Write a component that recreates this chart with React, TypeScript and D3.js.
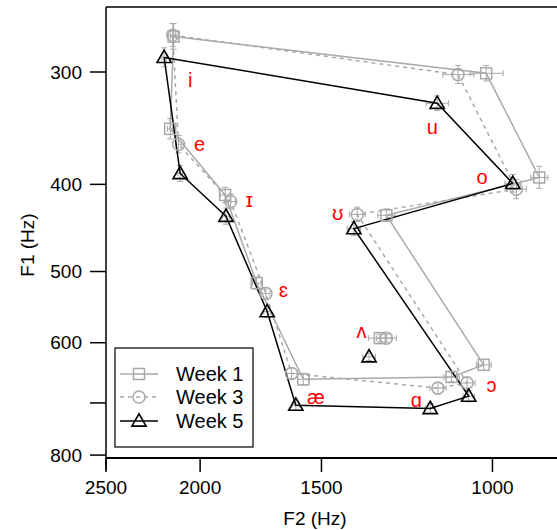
import React from "react";
import * as d3 from "d3";

// vowel order round the polygon
const vowels = ["i", "e", "ɪ", "ɛ", "æ", "ɑ", "ɔ", "ʊ", "o", "u"];

const week1F2 = [2130, 2147, 1885, 1749, 1566, 1102, 1021, 1286, 895, 1015];
const week1F1 = [274, 347, 411, 515, 659, 655, 635, 433, 393, 301];
const week1F2Err = [14, 14, 22, 18, 22, 20, 18, 26, 18, 40];
const week1F1Err = [9, 9, 8, 8, 10, 8, 9, 7, 11, 6];

const week3F2 = [2134, 2105, 1860, 1711, 1610, 1138, 1062, 1378, 945, 1085];
const week3F1 = [273, 361, 418, 529, 649, 674, 665, 432, 405, 302];
const week3F2Err = [14, 14, 20, 16, 22, 22, 20, 26, 22, 40];
const week3F1Err = [8, 8, 8, 8, 9, 10, 10, 8, 10, 7];

const week5F2 = [2178, 2097, 1881, 1706, 1594, 1159, 1058, 1389, 953, 1140];
const week5F1 = [289, 389, 434, 554, 704, 710, 688, 448, 399, 325];
const week5F2Err = [12, 12, 16, 14, 14, 14, 14, 22, 18, 30];
const week5F1Err = [7, 8, 9, 8, 9, 9, 10, 8, 9, 6];

// ʌ sits apart from the polygon
const wedgeF2 = [1306, 1286, 1340];
const wedgeF1 = [593, 593, 622];
const wedgeF2Err = [36, 30, 20];
const wedgeF1Err = [6, 6, 6];

// where the red vowel labels sit (F2, F1)
const labelF2 = [2048, 2003, 1780, 1642, 1520, 1198, 1002, 1443, 1025, 1153];
const labelF1 = [306, 361, 416, 524, 689, 694, 669, 430, 393, 345];
const wedgeLabel = { f2: 1364, f1: 582, text: "ʌ" };

const xTicks = [2500, 2000, 1500, 1000];
const yTicks = [300, 400, 500, 600, 700, 800];
const yTickLabels = ["300", "400", "500", "600", "", "800"];

const seriesNames = ["Week 1", "Week 3", "Week 5"];

const font = "'Liberation Sans', Arial, 'DejaVu Sans', sans-serif";
const gray = "#a9a9a9";

const series = [
  { name: seriesNames[0], f2: week1F2, f1: week1F1, e2: week1F2Err, e1: week1F1Err, color: gray, dash: "none", marker: "square" },
  { name: seriesNames[1], f2: week3F2, f1: week3F1, e2: week3F2Err, e1: week3F1Err, color: gray, dash: "4,4", marker: "circle" },
  { name: seriesNames[2], f2: week5F2, f1: week5F1, e2: week5F2Err, e1: week5F1Err, color: "black", dash: "none", marker: "triangle" },
];

function Marker({ type, x, y, color }: { type: string; x: number; y: number; color: string }) {
  if (type === "square")
    return <rect x={x - 5.5} y={y - 5.5} width={11} height={11} fill="none" stroke={color} strokeWidth={1.5} />;
  if (type === "circle")
    return <circle cx={x} cy={y} r={6} fill="none" stroke={color} strokeWidth={1.5} />;
  const tri = d3.symbol().type(d3.symbolTriangle).size(88)();
  return <path d={tri ?? ""} transform={`translate(${x},${y + 1})`} fill="none" stroke={color} strokeWidth={1.6} />;
}

export default function App() {
  const width = 557;
  const height = 530;
  const plot = { left: 106, right: 566, top: 7, bottom: 458 };

  const x = d3.scaleLog().domain([2500, 840]).range([plot.left, plot.right]);
  const y = d3.scaleLog().domain([254, 806]).range([plot.top, plot.bottom]);

  const capW = 3;

  const errorBars = (f2: number[], f1: number[], e2: number[], e1: number[], key: string) =>
    f2.map((v, i) => {
      const cx = x(v);
      const cy = y(f1[i]);
      const x0 = x(v + e2[i]);
      const x1 = x(v - e2[i]);
      const y0 = y(f1[i] - e1[i]);
      const y1 = y(f1[i] + e1[i]);
      return (
        <g key={`${key}-${i}`} stroke={gray} strokeWidth={1}>
          <line x1={x0} x2={x1} y1={cy} y2={cy} />
          <line x1={x0} x2={x0} y1={cy - capW} y2={cy + capW} />
          <line x1={x1} x2={x1} y1={cy - capW} y2={cy + capW} />
          <line x1={cx} x2={cx} y1={y0} y2={y1} />
          <line x1={cx - capW} x2={cx + capW} y1={y0} y2={y0} />
          <line x1={cx - capW} x2={cx + capW} y1={y1} y2={y1} />
        </g>
      );
    });

  const polygon = (s: (typeof series)[number]) => {
    const pts: [number, number][] = s.f2.map((v, i) => [x(v), y(s.f1[i])]);
    pts.push(pts[0]);
    return d3.line()(pts) ?? "";
  };

  const legend = { x: 115, y: 348, w: 138, h: 99 };
  const legendRows = [374, 397, 421];

  return (
    <svg width={width} height={height} style={{ position: "absolute", left: 0, top: 0 }} fontFamily={font}>
      <rect width={width} height={height} fill="white" />

      {/* error bars */}
      {series.map((s) => errorBars(s.f2, s.f1, s.e2, s.e1, s.name))}
      {errorBars(wedgeF2, wedgeF1, wedgeF2Err, wedgeF1Err, "wedge")}

      {/* vowel polygons */}
      {series.map((s) => (
        <path key={s.name} d={polygon(s)} fill="none" stroke={s.color} strokeWidth={1.5} strokeDasharray={s.dash} />
      ))}

      {/* markers */}
      {series.map((s, si) => (
        <g key={`m-${s.name}`}>
          {s.f2.map((v, i) => (
            <Marker key={i} type={s.marker} x={x(v)} y={y(s.f1[i])} color={s.color} />
          ))}
          <Marker type={s.marker} x={x(wedgeF2[si])} y={y(wedgeF1[si])} color={s.color} />
        </g>
      ))}

      {/* vowel labels */}
      <g fill="red" fontSize={20} textAnchor="middle" dominantBaseline="central">
        {vowels.map((v, i) => (
          <text key={v} x={x(labelF2[i])} y={y(labelF1[i])}>
            {v}
          </text>
        ))}
        <text x={x(wedgeLabel.f2)} y={y(wedgeLabel.f1)}>
          {wedgeLabel.text}
        </text>
      </g>

      {/* frame and axes */}
      <line x1={plot.left} x2={width} y1={plot.top} y2={plot.top} stroke="black" strokeWidth={1.3} />
      <line x1={plot.left} x2={plot.left} y1={plot.top} y2={plot.bottom + 12} stroke="black" strokeWidth={1.5} />
      <line x1={plot.left} x2={width} y1={plot.bottom} y2={plot.bottom} stroke="black" strokeWidth={2} />

      {xTicks.map((t) => (
        <g key={t} transform={`translate(${x(t)},0)`}>
          <line y1={plot.bottom} y2={plot.bottom + 14} stroke="black" strokeWidth={1.5} />
          <text y={494} textAnchor="middle" fontSize={19}>
            {t}
          </text>
        </g>
      ))}
      {yTicks.map((t, i) => (
        <g key={t} transform={`translate(0,${y(t)})`}>
          <line x1={plot.left - 16} x2={plot.left} stroke="black" strokeWidth={1.5} />
          <text x={82} textAnchor="end" dominantBaseline="central" fontSize={19}>
            {yTickLabels[i]}
          </text>
        </g>
      ))}

      <text x={315} y={525} textAnchor="middle" fontSize={19}>
        F2 (Hz)
      </text>
      <text transform="translate(34,245) rotate(-90)" textAnchor="middle" fontSize={19}>
        F1 (Hz)
      </text>

      {/* legend */}
      <rect x={legend.x} y={legend.y} width={legend.w} height={legend.h} fill="white" stroke="black" strokeWidth={1.2} />
      {series.map((s, i) => (
        <g key={`l-${s.name}`}>
          <line x1={120} x2={158} y1={legendRows[i]} y2={legendRows[i]} stroke={s.color} strokeWidth={1.5} strokeDasharray={s.dash} />
          <Marker type={s.marker} x={139} y={legendRows[i]} color={s.color} />
          <text x={176} y={legendRows[i]} dominantBaseline="central" fontSize={20}>
            {s.name}
          </text>
        </g>
      ))}
    </svg>
  );
}
